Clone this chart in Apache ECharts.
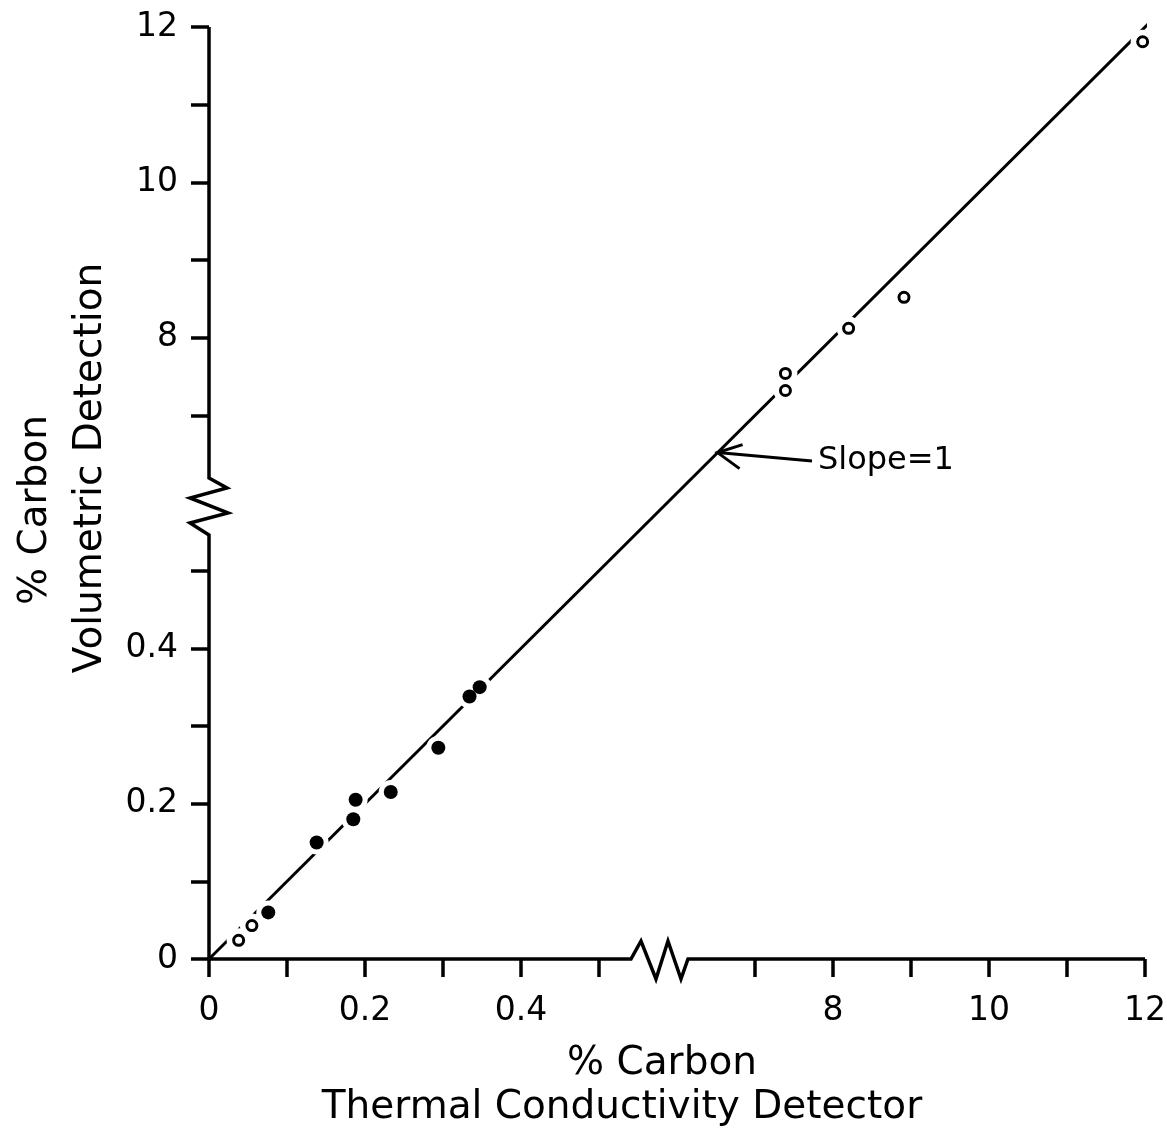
<!DOCTYPE html>
<html>
<head>
<meta charset="utf-8">
<script src="https://cdn.jsdelivr.net/npm/echarts@6/dist/echarts.min.js"></script>
<style>
  html, body { margin: 0; padding: 0; background: #ffffff; }
  #chart { width: 1167px; height: 1142px; }
</style>
</head>
<body>
<div id="chart"></div>
<script>
// % carbon found by the thermal conductivity detector (x) and by volumetric detection (y)
const openLow   = [[0.038, 0.024], [0.055, 0.043]];
const filledLow = [[0.076, 0.060], [0.138, 0.150], [0.185, 0.180], [0.188, 0.205],
                   [0.233, 0.215], [0.294, 0.272], [0.334, 0.338], [0.347, 0.350]];
const openHigh  = [[7.39, 7.54], [7.39, 7.32], [8.20, 8.12], [8.91, 8.52], [11.97, 11.81]];
const slopeLine = [[0, 0], [12.3, 12.3]];

const tickValues  = [0, 0.1, 0.2, 0.3, 0.4, 0.5, 7, 8, 9, 10, 11, 12];
const labelValues = [0, 0.2, 0.4, 8, 10, 12];
const tickLabels  = ['0', '0.2', '0.4', '8', '10', '12'];

const xTitle = ['% Carbon', 'Thermal Conductivity Detector'];
const yTitle = ['% Carbon', 'Volumetric Detection'];
const slopeText = 'Slope=1';

// Both axes are broken: 0-0.5 % is spread ten times wider than 6-12 %,
// so every value is placed on one shared 0-12 plotting scale.
const LOW_LIMIT = 1, LOW_STRETCH = 10;
const toAxis = v => Math.round((v < LOW_LIMIT ? v * LOW_STRETCH : v) * 1000) / 1000;
const toPlot = pts => pts.map(p => [toAxis(p[0]), toAxis(p[1])]);
const labelFor = {};
labelValues.forEach((v, i) => { labelFor[toAxis(v)] = tickLabels[i]; });

const FONT = 'DejaVu Sans';
const INK = '#000000';

const axisCommon = {
  type: 'value', min: 0, max: 12,
  axisLine: { show: false },
  splitLine: { show: false },
  axisTick: {
    show: true, length: 18, customValues: tickValues.map(toAxis),
    lineStyle: { color: INK, width: 3.5 }
  }
};

const chart = echarts.init(document.getElementById('chart'), null, { renderer: 'canvas' });

chart.setOption({
  backgroundColor: '#ffffff',
  animation: false,
  grid: { left: 209, right: 22, top: 27, bottom: 183, containLabel: false, outerBoundsMode: 'none' },
  xAxis: Object.assign({}, axisCommon, {
    axisLabel: {
      customValues: labelValues.map(toAxis),
      formatter: v => labelFor[toAxis(v)] || '',
      color: INK, fontFamily: FONT, fontSize: 33, margin: 36
    }
  }),
  yAxis: Object.assign({}, axisCommon, {
    axisLabel: {
      customValues: labelValues.map(toAxis),
      formatter: v => labelFor[toAxis(v)] || '',
      color: INK, fontFamily: FONT, fontSize: 33, margin: 31
    }
  }),
  series: [
    {
      name: 'Slope = 1', type: 'line', data: toPlot(slopeLine),
      showSymbol: false, clip: false, silent: true, z: 1,
      lineStyle: { color: INK, width: 3 }
    },
    {
      // white ring that opens the line around each plotted point
      name: 'gap', type: 'scatter', silent: true, z: 2,
      data: toPlot(openLow.concat(filledLow, openHigh)),
      symbol: 'circle', symbolSize: 24,
      itemStyle: { color: '#ffffff', opacity: 1 }
    },
    {
      name: 'open', type: 'scatter', z: 3,
      data: toPlot(openLow.concat(openHigh)),
      symbol: 'circle', symbolSize: 10,
      itemStyle: { color: '#ffffff', borderColor: INK, borderWidth: 3, opacity: 1 }
    },
    {
      name: 'filled', type: 'scatter', z: 3,
      data: toPlot(filledLow),
      symbol: 'circle', symbolSize: 14,
      itemStyle: { color: INK, opacity: 1 }
    }
  ]
});

// Axis lines with zig-zag break marks, plus titles and the slope note
const px = (x, y) => chart.convertToPixel({ gridIndex: 0 }, [x, y]);
const X_BREAK = 5.41, Y_BREAK = 5.46;

const o = px(0, 0);
const xb = px(X_BREAK, 0);
const xEnd = px(12, 0);
const xAxisPts = [o, xb,
  [xb[0] + 10, xb[1] - 18], [xb[0] + 25, xb[1] + 20],
  [xb[0] + 37, xb[1] - 18], [xb[0] + 50, xb[1] + 20],
  [xb[0] + 57, xb[1]], xEnd];

const yb = px(0, Y_BREAK);
const yEnd = px(0, 12);
const yAxisPts = [o, yb,
  [yb[0] - 19, yb[1] - 12], [yb[0] + 19, yb[1] - 22],
  [yb[0] - 19, yb[1] - 37], [yb[0] + 18, yb[1] - 47],
  [yb[0], yb[1] - 57], yEnd];

const tip = px(6.52, 6.52);
const tail = [812, 461];

const titleStyle = { fill: INK, font: '39px "DejaVu Sans"', align: 'center', verticalAlign: 'middle' };
const axisStroke = { stroke: INK, lineWidth: 3.5, fill: null, lineJoin: 'miter' };

chart.setOption({
  graphic: [
    { type: 'polyline', shape: { points: xAxisPts }, style: axisStroke, z: 5 },
    { type: 'polyline', shape: { points: yAxisPts }, style: axisStroke, z: 5 },
    { type: 'text', x: 662, y: 1064, style: Object.assign({ text: xTitle[0] }, titleStyle) },
    { type: 'text', x: 622, y: 1108, style: Object.assign({ text: xTitle[1] }, titleStyle) },
    { type: 'text', x: 36, y: 510, rotation: Math.PI / 2, style: Object.assign({ text: yTitle[0] }, titleStyle) },
    { type: 'text', x: 91, y: 468, rotation: Math.PI / 2, style: Object.assign({ text: yTitle[1] }, titleStyle) },
    { type: 'line', shape: { x1: tip[0], y1: tip[1], x2: tail[0], y2: tail[1] }, style: { stroke: INK, lineWidth: 3 } },
    { type: 'polyline', shape: { points: [[tip[0] + 25, tip[1] - 8], tip, [tip[0] + 22, tip[1] + 16]] },
      style: { stroke: INK, lineWidth: 3, fill: null } },
    { type: 'text', x: 818, y: 461, style: { text: slopeText, fill: INK, font: '32px "DejaVu Sans"', align: 'left', verticalAlign: 'middle' } }
  ]
});
</script>
</body>
</html>
